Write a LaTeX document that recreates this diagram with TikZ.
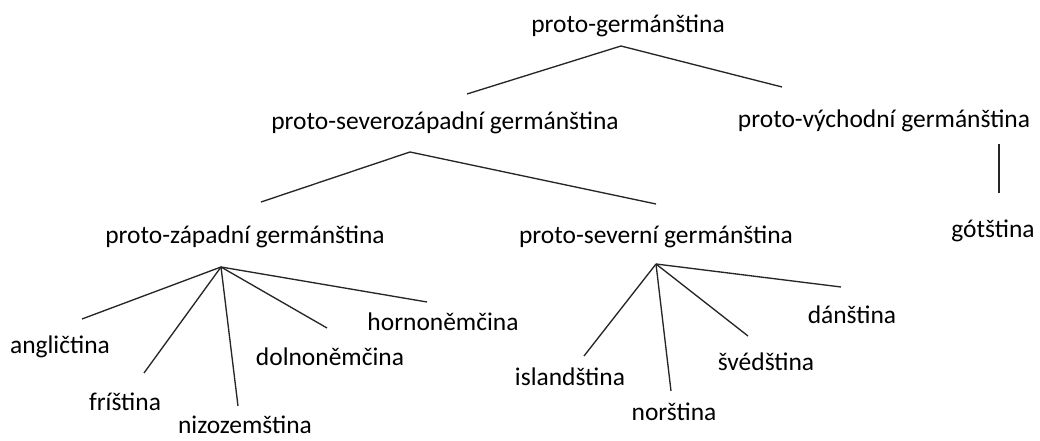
\documentclass[tikz,border=0pt]{standalone}
\usepackage{fontspec}
\setmainfont{Carlito}
\begin{document}
\begin{tikzpicture}[x=0.75pt,y=-0.75pt,
  lang/.style={anchor=base,inner sep=0pt,font=\fontsize{19.1pt}{23pt}\selectfont},
  branch/.style={line width=1pt,draw=black!85}]
\useasboundingbox[fill=white] (0,0) rectangle (1040,441);
% texts (x centre, baseline)
\node[lang] (pg)  at (628,33)  {proto-germánština};
\node[lang] (psz) at (445,130) {proto-severozápadní germánština};
\node[lang] (pv)  at (884,128) {proto-východní germánština};
\node[lang] (pz)  at (245,244) {proto-západní germánština};
\node[lang] (ps)  at (656,244) {proto-severní germánština};
\node[lang] (got) at (993,238) {gótština};
\node[lang] (ang) at (60,354)  {angličtina};
\node[lang] (fri) at (125,411) {fríština};
\node[lang] (niz) at (245,434) {nizozemština};
\node[lang] (dol) at (330,366) {dolnoněmčina};
\node[lang] (hor) at (443,331) {hornoněmčina};
\node[lang] (isl) at (570,386) {islandština};
\node[lang] (nor) at (674,421) {norština};
\node[lang] (sve) at (766,371) {švédština};
\node[lang] (dan) at (852,324) {dánština};
% branch points and ends
\coordinate (a1) at (621,46);
\coordinate (a1l) at (467,94);
\coordinate (a1r) at (782,87);
\coordinate (a2) at (410,152);
\coordinate (a2l) at (261,202);
\coordinate (a2r) at (656,204);
\coordinate (v1) at (999,144);
\coordinate (v2) at (999,193);
\coordinate (a3) at (221,267);
\coordinate (e-ang) at (82,319);
\coordinate (e-fri) at (144,373);
\coordinate (e-niz) at (238,406);
\coordinate (e-dol) at (327,328);
\coordinate (e-hor) at (427,302);
\coordinate (a4) at (656,264);
\coordinate (e-isl) at (584,356);
\coordinate (e-nor) at (671,391);
\coordinate (e-sve) at (748,336);
\coordinate (e-dan) at (841,287);
\draw[branch] (a1l) -- (a1) -- (a1r);
\draw[branch] (a2l) -- (a2) -- (a2r);
\draw[branch] (v1) -- (v2);
\foreach \e in {ang,fri,niz,dol,hor} \draw[branch] (a3) -- (e-\e);
\foreach \e in {isl,nor,sve,dan} \draw[branch] (a4) -- (e-\e);
\end{tikzpicture}
\end{document}
